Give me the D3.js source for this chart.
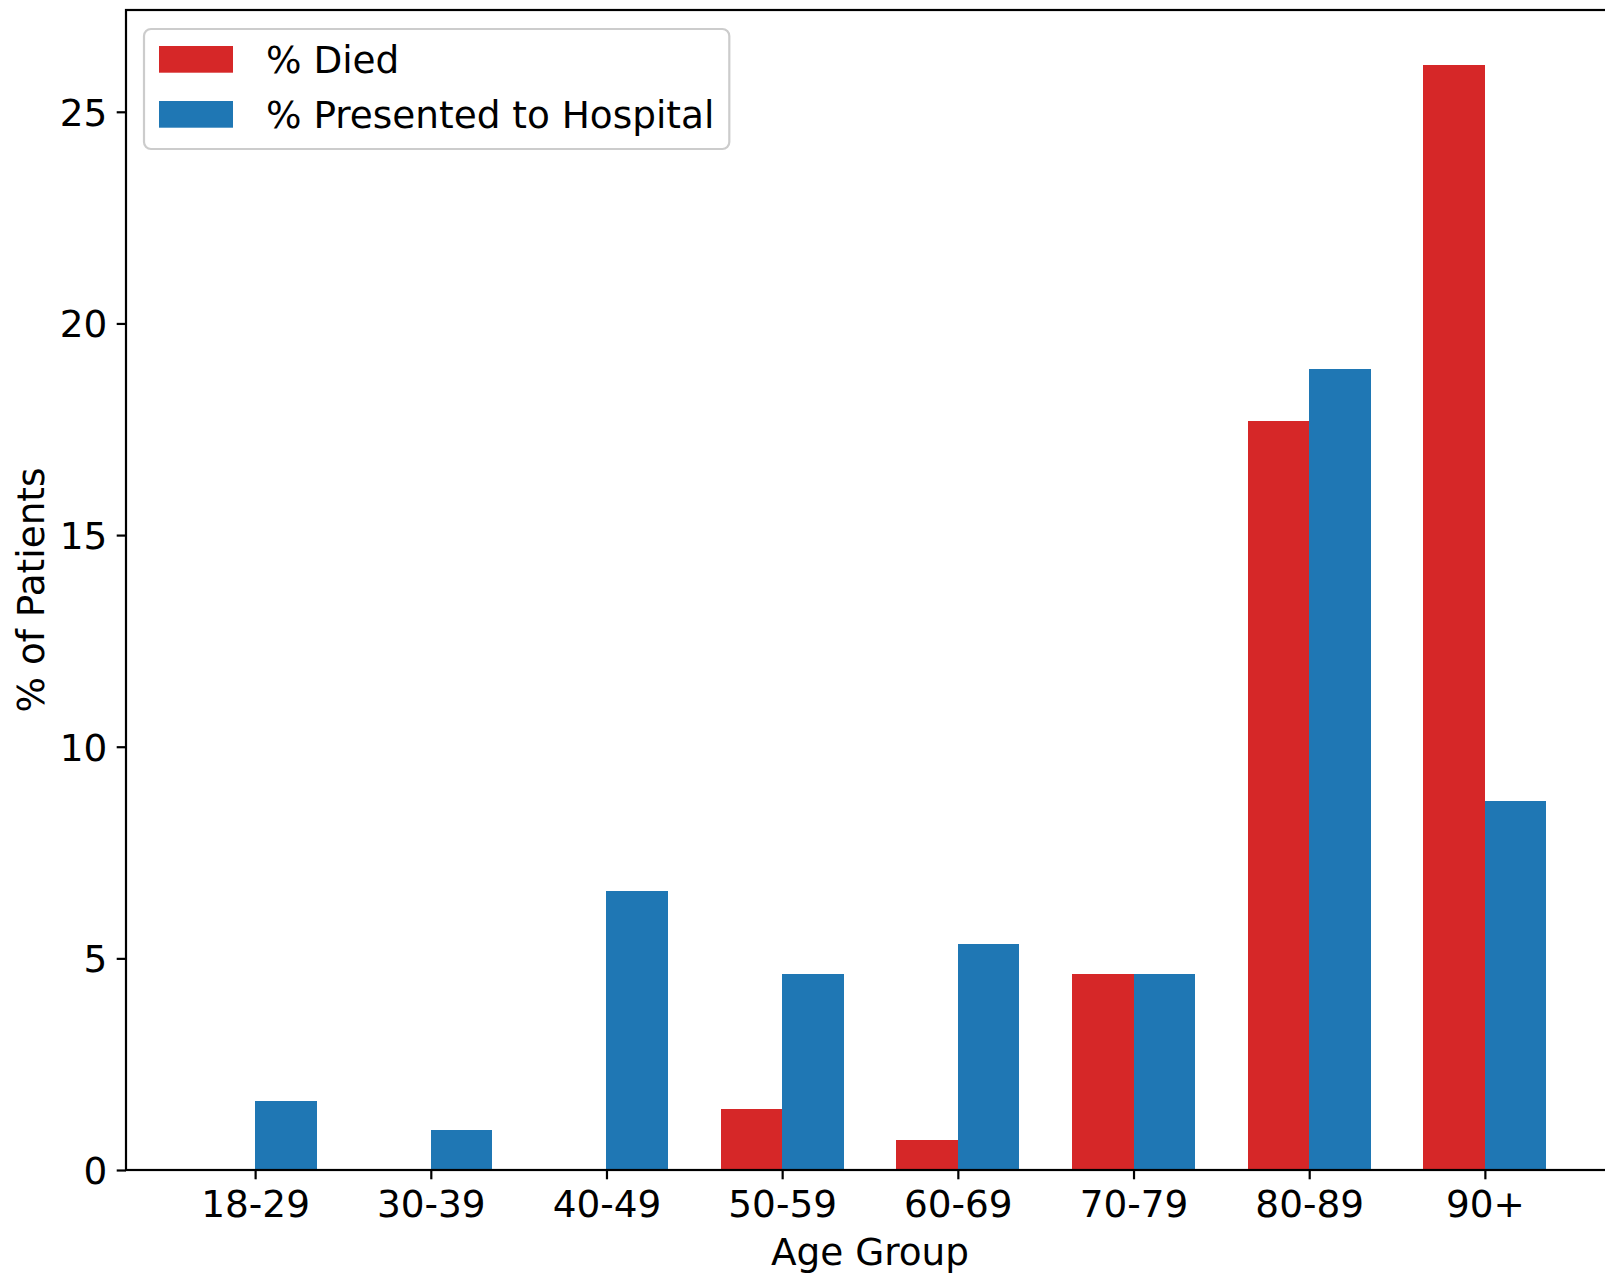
<!DOCTYPE html>
<html>
<head>
<meta charset="utf-8">
<script src="https://cdn.jsdelivr.net/npm/d3@7"></script>
<style>
  html, body { margin: 0; padding: 0; background: #fff; }
  svg { display: block; font-family: 'DejaVu Sans', sans-serif; }
</style>
</head>
<body>
<svg id="chart" width="1605" height="1273"></svg>
<script>
const categories = ['18-29', '30-39', '40-49', '50-59', '60-69', '70-79', '80-89', '90+'];
const died = [0, 0, 0, 1.43, 0.7, 4.62, 17.7, 26.1];
const hospital = [1.63, 0.94, 6.58, 4.62, 5.35, 4.62, 18.92, 8.71];
const yTicks = [0, 5, 10, 15, 20, 25];
const seriesNames = ['% Died', '% Presented to Hospital'];
const seriesColors = ['#d62728', '#1f77b4'];

const FONT = 37.4;
const LINE = 2.2;
const TICK = 9.3;
const BAR = 0.35;

const plot = { left: 126, top: 10, right: 1614, bottom: 1170 };

const svg = d3.select('#chart');

// matplotlib style 5% margins around the bars
const lo = -BAR;
const hi = categories.length - 1 + BAR;
const pad = (hi - lo) * 0.05;
const x = d3.scaleLinear().domain([lo - pad, hi + pad]).range([plot.left, plot.right]);

const yMax = d3.max([...died, ...hospital]) * 1.05;
const y = d3.scaleLinear().domain([0, yMax]).range([plot.bottom, plot.top]);

const bars = svg.append('g').attr('shape-rendering', 'crispEdges');
const series = [died, hospital];

series.forEach((values, s) => {
  bars
    .selectAll(`rect.s${s}`)
    .data(values)
    .join('rect')
    .attr('class', `s${s}`)
    .attr('x', (d, i) => x(s === 0 ? i - BAR : i))
    .attr('width', x(BAR) - x(0))
    .attr('y', (d) => y(d))
    .attr('height', (d) => y(0) - y(d))
    .attr('fill', seriesColors[s]);
});

// axes
const xAxis = d3
  .axisBottom(x)
  .tickValues(d3.range(categories.length))
  .tickFormat((i) => categories[i])
  .tickSize(TICK)
  .tickPadding(TICK);

const yAxis = d3.axisLeft(y).tickValues(yTicks).tickSize(TICK).tickPadding(TICK);

const gx = svg.append('g').attr('transform', `translate(0,${plot.bottom})`).call(xAxis);
const gy = svg.append('g').attr('transform', `translate(${plot.left},0)`).call(yAxis);

for (const g of [gx, gy]) {
  g.select('.domain').remove();
  g.selectAll('.tick line').attr('stroke', '#000').attr('stroke-width', LINE);
  g.selectAll('.tick text')
    .attr('fill', '#000')
    .attr('font-size', FONT)
    .attr('font-family', 'DejaVu Sans');
}
gx.selectAll('.tick text').attr('dy', '0.76em');
gy.selectAll('.tick text').attr('dy', '0.36em');

// spines
svg
  .append('rect')
  .attr('x', plot.left)
  .attr('y', plot.top)
  .attr('width', plot.right - plot.left)
  .attr('height', plot.bottom - plot.top)
  .attr('fill', 'none')
  .attr('stroke', '#000')
  .attr('stroke-width', LINE);

// axis labels
svg
  .append('text')
  .attr('x', (plot.left + plot.right) / 2)
  .attr('y', 1265)
  .attr('text-anchor', 'middle')
  .attr('font-size', FONT)
  .text('Age Group');

svg
  .append('text')
  .attr('transform', `translate(44,${(plot.top + plot.bottom) / 2}) rotate(-90)`)
  .attr('text-anchor', 'middle')
  .attr('font-size', FONT)
  .text('% of Patients');

// legend
const legend = svg.append('g');
const box = legend
  .append('rect')
  .attr('x', 144)
  .attr('y', 29)
  .attr('height', 120)
  .attr('rx', 7)
  .attr('fill', '#fff')
  .attr('fill-opacity', 0.8)
  .attr('stroke', '#cccccc')
  .attr('stroke-width', LINE);

let textRight = 0;
seriesNames.forEach((name, s) => {
  const top = 46 + s * 55;
  legend
    .append('rect')
    .attr('x', 159)
    .attr('y', top)
    .attr('width', 74)
    .attr('height', 26.7)
    .attr('fill', seriesColors[s]);
  const label = legend
    .append('text')
    .attr('x', 266)
    .attr('y', top + 13.35 + 13.6)
    .attr('font-size', FONT)
    .text(name);
  textRight = Math.max(textRight, 266 + label.node().getComputedTextLength());
});
box.attr('width', textRight + 15 - 144);
</script>
</body>
</html>
